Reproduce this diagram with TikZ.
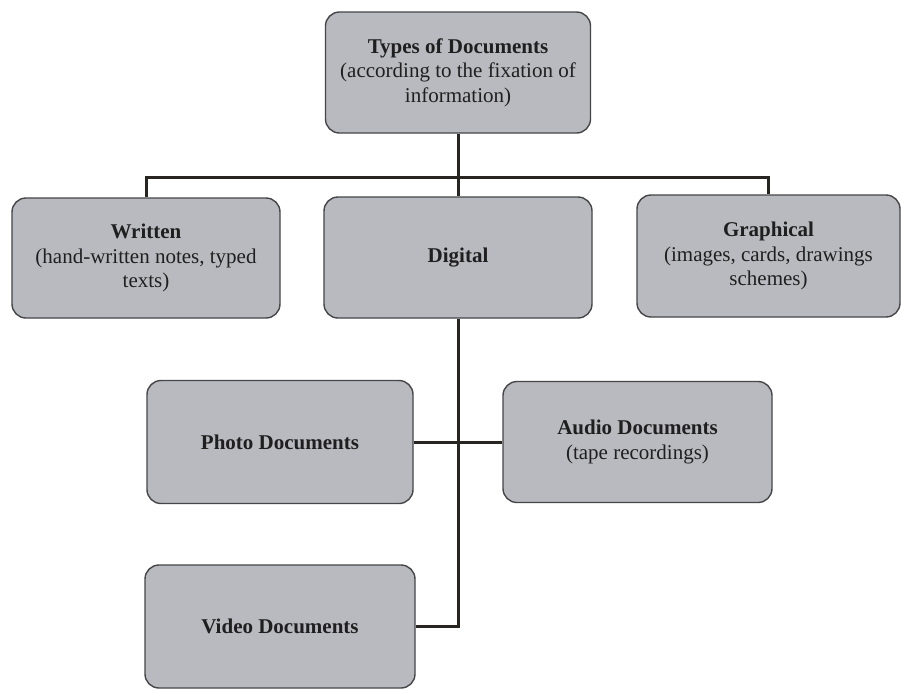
\documentclass[tikz,border=0pt]{standalone}
\usepackage{fontspec}
\setmainfont{Liberation Serif}
\definecolor{boxfill}{RGB}{184,186,192}
\definecolor{boxline}{RGB}{70,70,72}
\definecolor{connline}{RGB}{40,36,34}
\tikzset{
  docbox/.style={draw=boxline, line width=1.4pt, fill=boxfill, rounded corners=14pt,
    align=center, inner sep=4pt, text=black!88,
    font=\fontsize{21}{24.5}\selectfont},
  conn/.style={draw=connline, line width=3pt}
}
\begin{document}
\begin{tikzpicture}[x=1pt,y=-1pt]
\useasboundingbox[fill=white] (0,0) rectangle (903,689);
\node[docbox, minimum width=265pt, minimum height=121pt] (top) at (458,72.5)
  {\textbf{Types of Documents}\\(according to the fixation of\\information)};
\node[docbox, minimum width=268pt, minimum height=120pt] (written) at (146,258)
  {\textbf{Written}\\(hand-written notes, typed\\texts)};
\node[docbox, minimum width=268pt, minimum height=121pt] (digital) at (458,257.5)
  {\textbf{Digital}};
\node[docbox, minimum width=263pt, minimum height=122pt] (graphical) at (768.5,256)
  {\textbf{Graphical}\\(images, cards, drawings\\schemes)};
\node[docbox, minimum width=266pt, minimum height=123pt] (photo) at (280,442)
  {\textbf{Photo Documents}};
\node[docbox, minimum width=269pt, minimum height=121pt] (audio) at (637.5,442)
  {\textbf{Audio Documents}\\(tape recordings)};
\node[docbox, minimum width=270pt, minimum height=123pt] (video) at (280,626.5)
  {\textbf{Video Documents}};
\coordinate (bus) at (458,177);
\draw[conn] (top.south) -- (digital.north);
\draw[conn] (written.north) |- (bus) -| (graphical.north);
\draw[conn] (digital.south) |- (video.east);
\draw[conn] (photo.east) -- (audio.west);
\end{tikzpicture}
\end{document}
